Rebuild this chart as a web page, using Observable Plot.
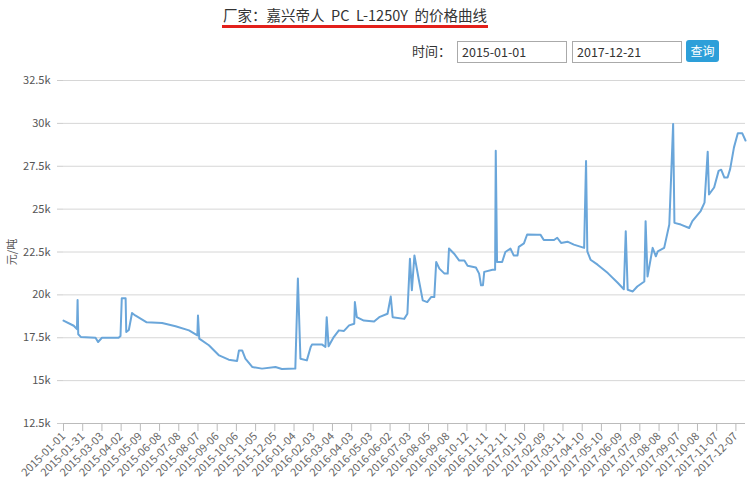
<!DOCTYPE html>
<html>
<head>
<meta charset="utf-8">
<script src="https://cdn.jsdelivr.net/npm/d3@7"></script>
<script src="https://cdn.jsdelivr.net/npm/@observablehq/plot@0.6"></script>
<style>
  html, body { margin: 0; padding: 0; background: #fff; }
  body { width: 750px; height: 489px; overflow: hidden; font-family: "Noto Sans CJK SC", "Noto Sans", sans-serif; }
  #head { position: relative; width: 750px; height: 66px; }
  #title { position: absolute; left: 220px; top: 5px; width: 270px; text-align: center; font-size: 14.5px; color: #333; white-space: pre; line-height: 20px; }
  #uline { position: absolute; left: 222px; top: 25px; width: 266px; height: 3px; background: #e3201b; }
  #tlabel { position: absolute; left: 412px; top: 42px; font-size: 13px; color: #333; line-height: 18px; }
  .inp { position: absolute; top: 41px; border: 1px solid #aaa; font-size: 12.5px; color: #333; line-height: 20px; padding-left: 4px; box-sizing: border-box; height: 22px; }
  #btn { position: absolute; left: 686px; top: 40px; width: 33px; height: 22px; background: #2d9fd9; border-radius: 3px; color: #fff; font-size: 12px; line-height: 22px; text-align: center; }
  #chart svg { display: block; }
</style>
</head>
<body>
<div id="head">
  <div id="title">厂家：嘉兴帝人  PC  L-1250Y  的价格曲线</div>
  <div id="uline"></div>
  <div id="tlabel">时间：</div>
  <div class="inp" style="left:457px;width:110px;">2015-01-01</div>
  <div class="inp" style="left:572px;width:110px;">2017-12-21</div>
  <div id="btn">查询</div>
</div>
<div id="chart"></div>
<script>
// Category tick labels (every 30th data point on the category axis)
const tickLabels = [
  "2015-01-01","2015-01-31","2015-03-03","2015-04-02","2015-05-09","2015-06-08",
  "2015-07-08","2015-08-07","2015-09-06","2015-10-06","2015-11-05","2015-12-05",
  "2016-01-04","2016-02-03","2016-03-04","2016-04-03","2016-05-03","2016-06-02",
  "2016-07-03","2016-08-05","2016-09-08","2016-10-12","2016-11-11","2016-12-11",
  "2017-01-10","2017-02-09","2017-03-11","2017-04-10","2017-05-10","2017-06-09",
  "2017-07-09","2017-08-08","2017-09-07","2017-10-08","2017-11-07","2017-12-07"
];
const tickStep = 30;
const lastIndex = 1065;

// Category index of each read point, and the price (元/吨) there
const pointIndex = [
  0, 16, 21, 22, 23, 27, 50, 54, 60, 86, 89, 91, 97, 98, 102, 107, 112, 130, 154, 175,
  196, 209, 210, 212, 227, 243, 258, 271, 274, 279, 284, 295, 310, 331, 341, 362, 366, 370, 380, 386,
  388, 404, 409, 411, 414, 422, 430, 438, 446, 454, 455, 458, 469, 485, 493, 506, 511, 514, 532, 537,
  541, 544, 548, 555, 561, 568, 574, 579, 582, 587, 595, 600, 602, 610, 618, 626, 631, 644, 649, 652,
  655, 657, 670, 674, 675, 677, 685, 690, 698, 703, 709, 711, 719, 724, 740, 745, 750, 766, 771, 777,
  787, 797, 813, 816, 818, 823, 834, 850, 865, 875, 878, 881, 889, 896, 907, 909, 912, 920, 925, 928,
  938, 946, 952, 954, 964, 977, 982, 995, 1001, 1006, 1008, 1016, 1023, 1027, 1032, 1037, 1041, 1047, 1053, 1060,
  1065
];
const price = [
  18500, 18200, 18000, 19700, 17700, 17550, 17500, 17250, 17500, 17500, 17600, 19800, 19800, 17830, 17950, 18940, 18800, 18400, 18360, 18170,
  17930, 17640, 18800, 17450, 17060, 16470, 16220, 16140, 16760, 16760, 16280, 15790, 15700, 15790, 15680, 15700, 20950, 16280, 16180, 16960,
  17100, 17100, 16960, 18700, 17000, 17540, 17930, 17900, 18220, 18320, 19580, 18700, 18500, 18450, 18700, 18900, 19900, 18700, 18600, 18900,
  22100, 20270, 22300, 20850, 19680, 19580, 19870, 19870, 21920, 21530, 21240, 21240, 22700, 22400, 22000, 22000, 21700, 21600, 21240, 20560,
  20560, 21340, 21470, 21470, 28400, 21920, 21920, 22500, 22700, 22300, 22300, 22800, 23000, 23520, 23500, 23500, 23200, 23200, 23330, 23030,
  23100, 22930, 22740, 27800, 22540, 22050, 21760, 21270, 20720, 20330, 23710, 20300, 20200, 20490, 20780, 24300, 21070, 22740, 22250, 22540,
  22740, 24100, 29970, 24200, 24100, 23900, 24300, 24890, 25380, 28350, 25860, 26260, 27230, 27300, 26840, 26840, 27330, 28600, 29420, 29420,
  29000
];

const yTicks = [12500, 15000, 17500, 20000, 22500, 25000, 27500, 30000, 32500];

const data = pointIndex.map((i, k) => ({i, v: price[k]}));
const xTicks = tickLabels.map((_, k) => k * tickStep);

const fmtK = v => (v / 1000) + "k";

const chart = Plot.plot({
  width: 750,
  height: 423,
  marginTop: 14,
  marginBottom: 66,
  marginLeft: 63,
  marginRight: 5,
  style: {fontFamily: "'Noto Sans CJK SC', 'Noto Sans', sans-serif", fontSize: "11px", color: "#555", background: "#fff"},
  x: {domain: [0, lastIndex]},
  y: {domain: [12500, 32500]},
  marks: [
    Plot.gridY(yTicks, {stroke: "#d6d6d6", strokeOpacity: 1, strokeWidth: 1}),
    Plot.axisY(yTicks, {
      tickFormat: fmtK, tickSize: 6, tickPadding: 7, stroke: "#ccc",
      label: "元/吨", labelAnchor: "center", labelArrow: "none", labelOffset: 55,
      fontSize: 11, fill: "#555"
    }),
    Plot.ruleY([12500], {stroke: "#bbb"}),
    Plot.axisX(xTicks, {
      tickFormat: d => tickLabels[d / tickStep], tickSize: 8, tickPadding: 3,
      tickRotate: -45, stroke: "#bbb", fontSize: 11, fill: "#666", label: null
    }),
    Plot.line(data, {x: "i", y: "v", stroke: "#6aa6da", strokeWidth: 2, curve: "linear"})
  ]
});
document.getElementById("chart").appendChild(chart);
</script>
</body>
</html>
